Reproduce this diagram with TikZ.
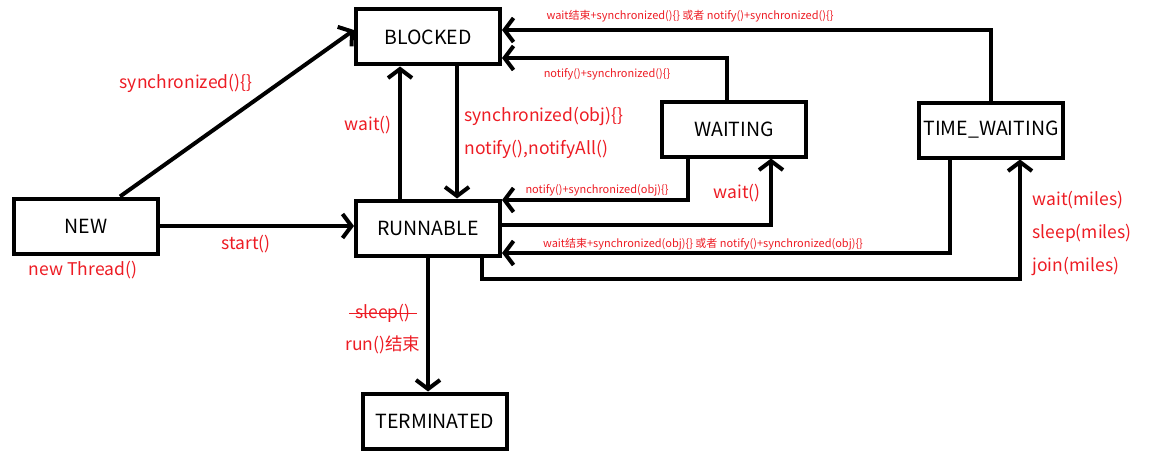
\documentclass[tikz,border=0pt]{standalone}
\usepackage{fontspec}
\setmainfont{Noto Sans CJK SC}
\usepackage{xcolor}
\usetikzlibrary{arrows.meta,positioning,calc}

\definecolor{lblred}{RGB}{237,28,36}

\begin{document}
\begin{tikzpicture}[
    x=1pt, y=-1pt,
    % thread states
    state/.style={draw, line width=4pt, minimum width=144pt, minimum height=55pt,
      font=\fontsize{19.5}{22}\selectfont},
    % thick connectors with open heads
    arr/.style={line width=4pt, -{Straight Barb[length=9pt,width=24pt,line width=4pt]}},
    big/.style={text=lblred, font=\fontsize{17.5}{20}\selectfont},
    small/.style={text=lblred, font=\fontsize{11}{13}\selectfont},
  ]
    \useasboundingbox (0,0) rectangle (1149,452);

    \node[state] (BLOCKED) at (428,37) {BLOCKED};
    \node[state] (NEW) at (86,226) {NEW};
    \node[state] (RUNNABLE) at (428,228) {RUNNABLE};
    \node[state] (WAITING) at (734,129) {WAITING};
    \node[state] (TW) at (991,130) {TIME\_WAITING};
    \node[state] (TERMINATED) at (435,421) {TERMINATED};

    \draw[arr] ([xshift=34pt]NEW.north) -- ([yshift=7pt]BLOCKED.west);
    \draw[arr] (NEW.east) -- (NEW.east -| RUNNABLE.west);
    \draw[arr] ([xshift=-28pt]RUNNABLE.north) -- ([xshift=-28pt]BLOCKED.south);
    \draw[arr] ([xshift=29pt]BLOCKED.south) -- ([xshift=29pt]RUNNABLE.north);
    \draw[arr] ([xshift=-7pt]WAITING.north) |- ([yshift=-21pt]BLOCKED.east);
    \draw[arr] (TW.north) |- ([yshift=7pt]BLOCKED.east);
    \draw[arr] ([xshift=-46pt]WAITING.south) |- ([yshift=28pt]RUNNABLE.east);
    \draw[arr] ([yshift=3pt]RUNNABLE.east) -| ([xshift=37pt]WAITING.south);
    \draw[arr] ([xshift=-41pt]TW.south) |- ([yshift=-25pt]RUNNABLE.east);
    \draw[arr] ([xshift=54pt]RUNNABLE.south) -- ++(0,21) -| ([xshift=29pt]TW.south);
    \draw[arr] (RUNNABLE.south) -- (RUNNABLE.south |- TERMINATED.north);

    % labels
    \node[big] (lsync) at (186,83) {synchronized()\{\}};
    \node[big] (lstart) at (246,244) {start()};
    \node[big] (lnew) at (83,270) {new Thread()};
    \node[big] (lwait) at (368,125) {wait()};
    \node[big, align=left, anchor=west] (lnotify) at (461,133)
      {synchronized(obj)\{\}\\[13pt]notify(),notifyAll()};
    \node[small] (lwb) at (607,74) {notify()+synchronized()\{\}};
    \node[small] (ltb) at (690,16) {wait结束+synchronized()\{\} 或者 notify()+synchronized()\{\}};
    \node[small] (lwr) at (597,190) {notify()+synchronized(obj)\{\}};
    \node[big] (lwait2) at (737,193) {wait()};
    \node[small] (ltr) at (703,244) {wait结束+synchronized(obj)\{\} 或者 notify()+synchronized(obj)\{\}};
    \node[big, align=left, anchor=west] (lmiles) at (1029,233)
      {wait(miles)\\[13pt]sleep(miles)\\[13pt]join(miles)};
    \node[big, inner xsep=6pt] (lsleep) at (383,313) {sleep()};
    \draw[lblred, line width=1pt] (lsleep.west) -- (lsleep.east);
    \node[big] (lrun) at (383,345) {run()结束};
  \end{tikzpicture}
\end{document}
